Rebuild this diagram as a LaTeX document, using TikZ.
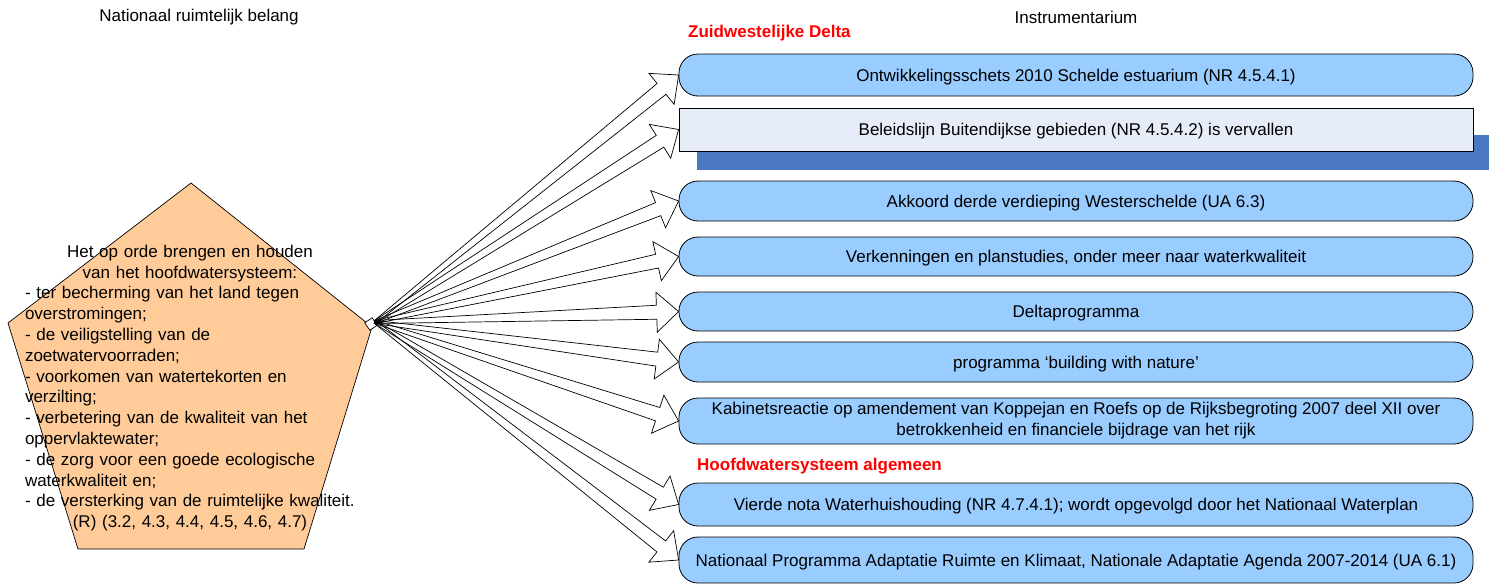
\documentclass[tikz,border=0pt]{standalone}
\usepackage{fontspec}
\setmainfont{Liberation Sans}
\usetikzlibrary{calc}
\definecolor{boxblue}{RGB}{153,204,255}
\definecolor{pentfill}{RGB}{255,204,153}
\definecolor{paleblue}{RGB}{230,237,248}
\definecolor{shadowblue}{RGB}{74,120,192}
\newcommand\blockarr[2]{%
  \coordinate (hb) at ($(#2)!22pt!(#1)$);
  \draw[arrline] ($(#1)!1.5pt!90:(#2)$) -- ($(hb)!7pt!90:(#2)$) -- ($(hb)!20pt!90:(#2)$)
    -- (#2) -- ($(hb)!20pt!-90:(#2)$) -- ($(hb)!7pt!-90:(#2)$) -- ($(#1)!1.5pt!-90:(#2)$) -- cycle;
}
\begin{document}
\begin{tikzpicture}[x=1pt,y=-1pt,
  every node/.style={font=\fontsize{17}{20.8}\selectfont},
  ibox/.style={draw, fill=boxblue, rounded corners=19pt, minimum width=794pt, inner sep=0pt, align=center, line width=0.8pt},
  oneline/.style={text height=12pt, text depth=0pt},
  pbox/.style={draw, fill=paleblue, minimum width=794pt, inner sep=0pt, align=center, line width=0.8pt},
  arrline/.style={draw=black, line width=0.7pt, line join=miter},
  head/.style={text=red, font=\fontsize{17}{20.8}\selectfont\bfseries, anchor=west, inner sep=0pt},
  title/.style={inner sep=0pt}]
\useasboundingbox (0,0) rectangle (1489,584);
\fill[white] (0,0) rectangle (1489,584);

% titles
\node[title] (t1) at (199,17) {Nationaal ruimtelijk belang};
\node[title] (t2) at (1076,17) {Instrumentarium};
\node[head] (h1) at (688,33) {Zuidwestelijke Delta};
\node[head] (h2) at (697,466) {Hoofdwatersysteem algemeen};

% pentagon
\draw[fill=pentfill, line width=0.7pt] (191,183) -- (372,327) -- (304,549) -- (78,549) -- (8,323) -- cycle;
\node[text width=330pt, align=left, inner sep=0pt] (pt) at (190,388) {%
\makebox[330pt][c]{Het op orde brengen en houden}\\
\makebox[330pt][c]{van het hoofdwatersysteem:}\\
- ter becherming van het land tegen\\
overstromingen;\\
- de veiligstelling van de\\
zoetwatervoorraden;\\
- voorkomen van watertekorten en\\
verzilting;\\
- verbetering van de kwaliteit van het\\
oppervlaktewater;\\
- de zorg voor een goede ecologische\\
waterkwaliteit en;\\
- de versterking van de ruimtelijke kwaliteit.\\
\makebox[330pt][c]{(R) (3.2, 4.3, 4.4, 4.5, 4.6, 4.7)}};

% shadow of box 2
\fill[shadowblue] (697,135) rectangle (1489,170);

% boxes
\node[ibox, oneline, minimum height=42pt] (b1) at (1076,75) {Ontwikkelingsschets 2010 Schelde estuarium (NR 4.5.4.1)};
\node[pbox, oneline, minimum height=43pt] (b2) at (1076,129.5) {Beleidslijn Buitendijkse gebieden (NR 4.5.4.2) is vervallen};
\node[ibox, oneline, minimum height=40pt] (b3) at (1076,201) {Akkoord derde verdieping Westerschelde (UA 6.3)};
\node[ibox, oneline, minimum height=39pt] (b4) at (1076,256.5) {Verkenningen en planstudies, onder meer naar waterkwaliteit};
\node[ibox, oneline, minimum height=39pt] (b5) at (1076,311.5) {Deltaprogramma};
\node[ibox, oneline, minimum height=40pt] (b6) at (1076,362) {programma ‘building with nature’};
\node[ibox, minimum height=46pt, font=\fontsize{17}{21}\selectfont] (b7) at (1076,421) {Kabinetsreactie op amendement van Koppejan en Roefs op de Rijksbegroting 2007 deel XII over\\betrokkenheid en financiele bijdrage van het rijk};
\node[ibox, oneline, minimum height=43pt] (b8) at (1076,504.5) {Vierde nota Waterhuishouding (NR 4.7.4.1); wordt opgevolgd door het Nationaal Waterplan};
\node[ibox, oneline, minimum height=46pt] (b9) at (1076,560) {Nationaal Programma Adaptatie Ruimte en Klimaat, Nationale Adaptatie Agenda 2007-2014 (UA 6.1)};

% hub and arrows
\node[draw, fill=white, minimum size=9pt, inner sep=0pt, rotate=35, line width=0.7pt] (hub) at (371,324) {};
\coordinate (O) at (375,322);
\foreach \b in {b1,b2,b3,b4,b5,b6,b7,b8,b9} {\blockarr{O}{\b.west}}
\end{tikzpicture}
\end{document}
